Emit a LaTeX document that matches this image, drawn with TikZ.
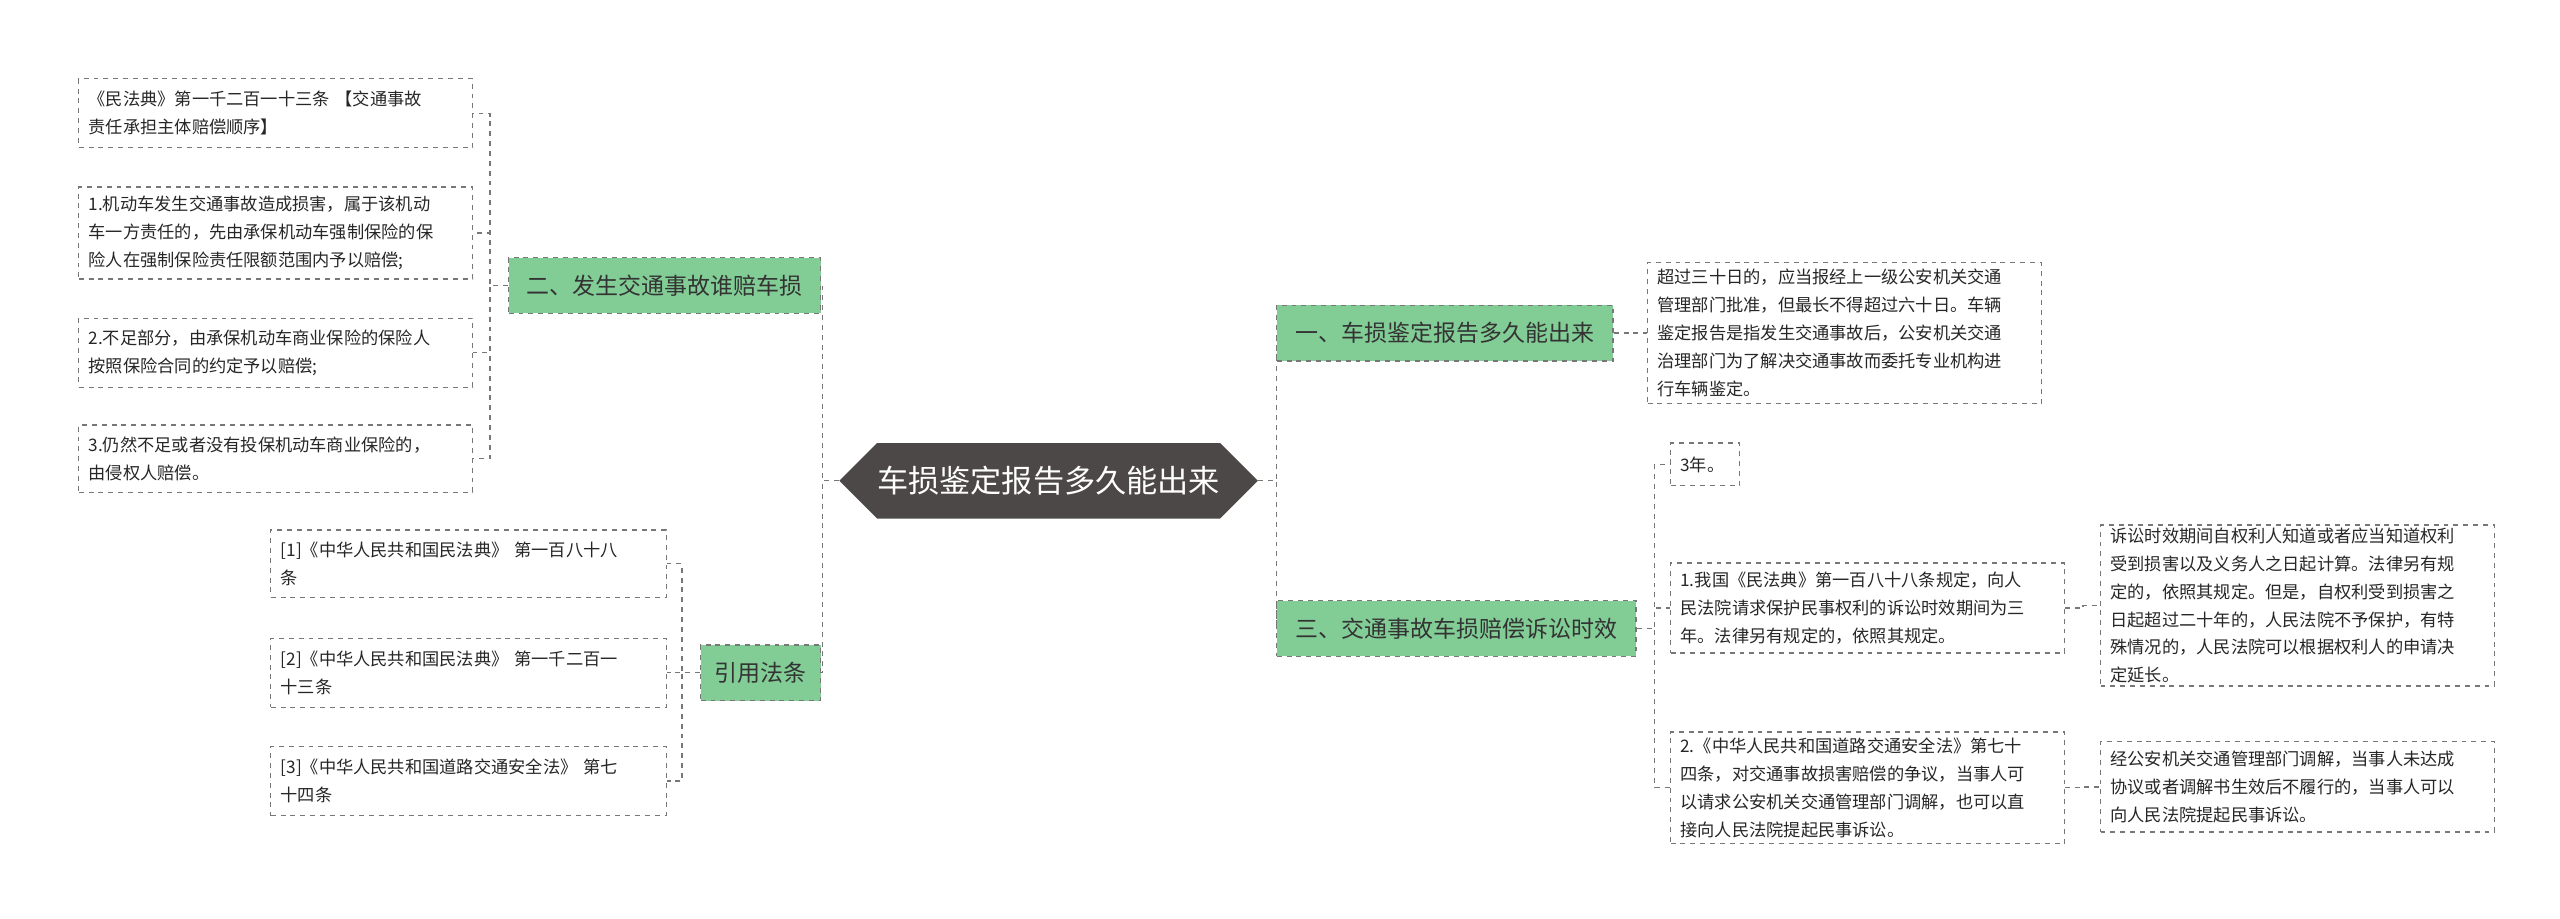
\documentclass[tikz,border=0pt]{standalone}
\usepackage{fontspec}
\setmainfont{Noto Sans CJK SC}
\usetikzlibrary{shapes.symbols}
\definecolor{grn}{HTML}{82CC95}
\definecolor{dk}{HTML}{4D4848}
\definecolor{ln}{HTML}{777777}
\begin{document}
\begin{tikzpicture}[x=1pt,y=-1pt,
 leafbox/.style={draw=ln,dashed,line width=0.8pt,align=left,inner sep=0pt,font=\fontsize{10.5}{17}\selectfont,text=black!85},
 branchbox/.style={draw=ln,dashed,line width=0.8pt,fill=grn,inner sep=0pt,font=\fontsize{14}{17}\selectfont,text=black!80},
 conn/.style={draw=ln,dashed,line width=0.8pt}]
\useasboundingbox (0,0) rectangle (1560,560);
\newcommand{\lf}[7]{\node[leafbox,minimum width=#4-#2,minimum height=#5-#3,text width=#4-#2-12] (#1) at ({(#2+#4)/2},{(#3+#5)/2}) {#6};}
\newcommand{\br}[6]{\node[branchbox,minimum width=#4-#2,minimum height=#5-#3] (#1) at ({(#2+#4)/2},{(#3+#5)/2}) {#6};}
% center
\node[signal,signal to=west and east,fill=dk,text=white,minimum width=234,minimum height=46,inner sep=0pt,font=\fontsize{19}{22}\selectfont] (c) at (639,293) {车损鉴定报告多久能出来};
% branches
\br{r1}{778}{186}{983}{220}{一、车损鉴定报告多久能出来}
\br{r2}{778}{366}{997}{400}{三、交通事故车损赔偿诉讼时效}
\br{l1}{310}{157}{500}{191}{二、发生交通事故谁赔车损}
\br{l2}{427}{393}{500}{427}{引用法条}
% right leaves
\lf{a1}{1004}{160}{1244}{246}{超过三十日的，应当报经上一级公安机关交通\\管理部门批准，但最长不得超过六十日。车辆\\鉴定报告是指发生交通事故后，公安机关交通\\治理部门为了解决交通事故而委托专业机构进\\行车辆鉴定。}{}
\lf{b0}{1018}{270}{1060}{296}{3年。}{}
\lf{b1}{1018}{343}{1258}{398}{1.我国《民法典》第一百八十八条规定，向人\\民法院请求保护民事权利的诉讼时效期间为三\\年。法律另有规定的，依照其规定。}{}
\lf{b1c}{1280}{320}{1520}{418}{诉讼时效期间自权利人知道或者应当知道权利\\受到损害以及义务人之日起计算。法律另有规\\定的，依照其规定。但是，自权利受到损害之\\日起超过二十年的，人民法院不予保护，有特\\殊情况的，人民法院可以根据权利人的申请决\\定延长。}{}
\lf{b2}{1018}{446}{1258}{514}{2.《中华人民共和国道路交通安全法》第七十\\四条，对交通事故损害赔偿的争议，当事人可\\以请求公安机关交通管理部门调解，也可以直\\接向人民法院提起民事诉讼。}{}
\lf{b2c}{1280}{452}{1520}{507}{经公安机关交通管理部门调解，当事人未达成\\协议或者调解书生效后不履行的，当事人可以\\向人民法院提起民事诉讼。}{}
% left leaves
\lf{p1}{48}{48}{288}{90}{《民法典》第一千二百一十三条 【交通事故\\责任承担主体赔偿顺序】}{}
\lf{p2}{48}{114}{288}{170}{1.机动车发生交通事故造成损害，属于该机动\\车一方责任的，先由承保机动车强制保险的保\\险人在强制保险责任限额范围内予以赔偿;}{}
\lf{p3}{48}{194}{288}{236}{2.不足部分，由承保机动车商业保险的保险人\\按照保险合同的约定予以赔偿;}{}
\lf{p4}{48}{259}{288}{300}{3.仍然不足或者没有投保机动车商业保险的，\\由侵权人赔偿。}{}
\lf{q1}{165}{323}{406}{364}{[1]《中华人民共和国民法典》 第一百八十八\\条}{}
\lf{q2}{165}{389}{406}{431}{[2]《中华人民共和国民法典》 第一千二百一\\十三条}{}
\lf{q3}{165}{455}{406}{497}{[3]《中华人民共和国道路交通安全法》 第七\\十四条}{}
% connectors
\foreach \t in {r1,r2} \draw[conn] (c.east) -- ++(11,0) |- (\t.west);
\foreach \t in {l1,l2} \draw[conn] (c.west) -- ++(-10,0) |- (\t.east);
\draw[conn] (r1.east) -- (a1.west);
\foreach \t in {b0,b1,b2} \draw[conn] (r2.east) -- ++(11,0) |- (\t.west);
\draw[conn] (b1.east) -- ++(11,0) |- (b1c.west);
\draw[conn] (b2.east) -- ++(11,0) |- (b2c.west);
\foreach \t in {p1,p2,p3,p4} \draw[conn] (l1.west) -- ++(-11,0) |- (\t.east);
\foreach \t in {q1,q2,q3} \draw[conn] (l2.west) -- ++(-11,0) |- (\t.east);
\end{tikzpicture}
\end{document}
